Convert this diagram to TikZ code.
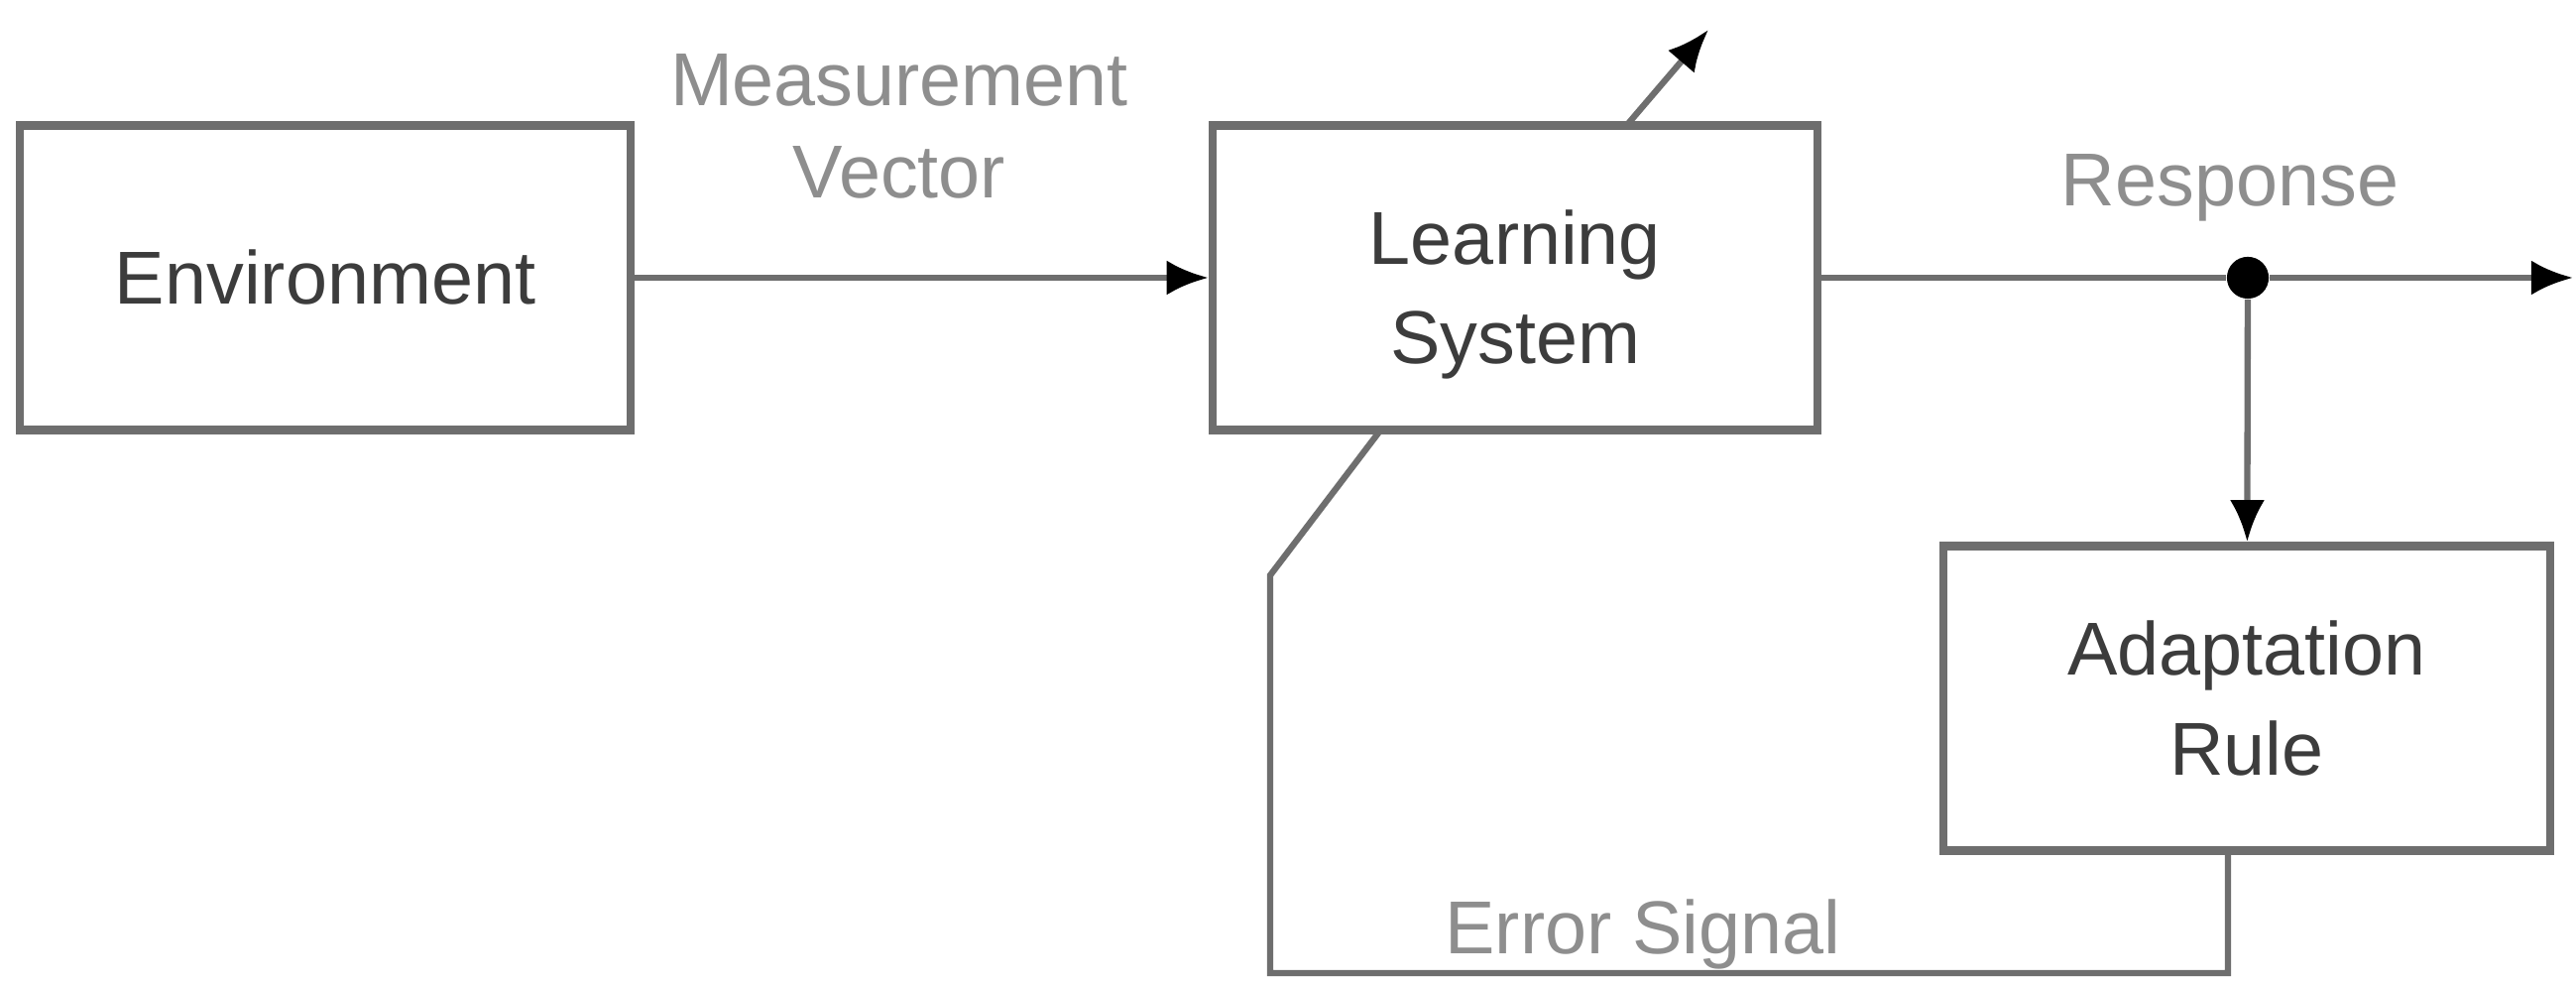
\documentclass[tikz,border=0pt]{standalone}
\usepackage{fontspec}
\setmainfont{Liberation Sans}
\usepackage{xcolor}
\usetikzlibrary{arrows.meta,positioning}
\definecolor{linegray}{HTML}{6E6E6E}
\definecolor{labelgray}{HTML}{8E8E8E}
\definecolor{textgray}{HTML}{3C3C3C}
\tikzset{
	thick,
	>={Latex[length=12pt,width=10pt,color=black]},
}
\begin{document}
\begin{tikzpicture}
    \tikzset{block/.style= {draw=linegray, line width=2.4pt, rectangle, align=center, text=textgray,
        font=\fontsize{21.5}{28.5}\selectfont, minimum height=3.07cm},
      sigtext/.style={align=center, text=labelgray, font=\fontsize{21.5}{26.5}\selectfont},
      wire/.style={draw=linegray, line width=1.8pt},
      dot/.style={circle, fill=black, inner sep=0pt, minimum size=12pt},
    }
    \useasboundingbox (0,0) rectangle (25.98,9.94);

    \node[block, minimum width=6.16cm] at (3.28,7.14) (env) {Environment};
    \node[block, minimum width=6.10cm] at (15.28,7.14) (learn) {};
    \node[block, draw=none, below=0.17cm of learn.center, anchor=center] (learnTxt) {Learning\\System};
    \node[block, minimum width=6.12cm] at (22.66,2.90) (adapt) {Adaptation\\Rule};

    \node[sigtext] at (9.07,8.67) (mvec) {Measurement\\Vector};
    \node[sigtext] at (22.49,8.05) (resp) {Response};
    \node[sigtext] at (16.57,0.52) (err) {Error Signal};

    \node[dot] at (22.67,7.14) (split) {};
    \coordinate (out) at (25.95,7.14);
    \coordinate (lsTop) at (16.40,8.67);
    \coordinate (lsOut) at (17.23,9.64);
    \coordinate (fbA) at (22.47,0.13);
    \coordinate (fbB) at (12.81,0.13);
    \coordinate (fbC) at (12.81,4.14);
    \coordinate (fbD) at (13.92,5.60);

    \path (env) edge[wire,->] (learn);
    \path (learn.east) edge[wire] (split);
    \path (split) edge[wire,->] (out);
    \path (split) edge[wire,->] (adapt);
    \path (lsTop) edge[wire,->] (lsOut);
    \draw[wire] (adapt.south -| fbA) -- (fbA) -- (fbB) -- (fbC) -- (fbD);
  \end{tikzpicture}
\end{document}
